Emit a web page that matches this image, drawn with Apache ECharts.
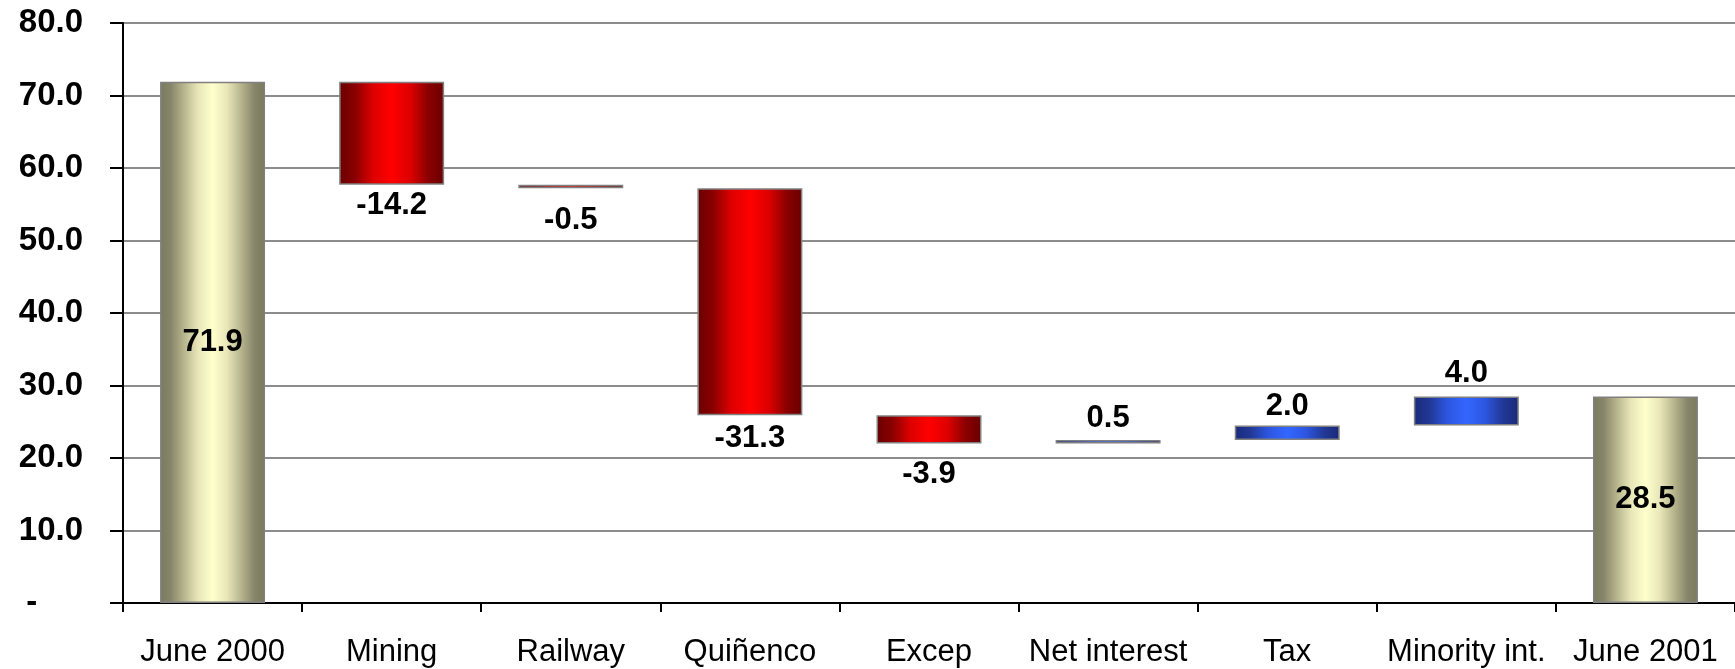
<!DOCTYPE html>
<html>
<head>
<meta charset="utf-8">
<script src="https://cdn.jsdelivr.net/npm/echarts@6/dist/echarts.min.js"></script>
<style>
html,body{margin:0;padding:0;background:#fff;}
#chart{width:1735px;height:669px;}
</style>
</head>
<body>
<div id="chart"></div>
<script>
// ---- data ----
var categories = ['June 2000', 'Mining', 'Railway', 'Quiñenco', 'Excep', 'Net interest', 'Tax', 'Minority int.', 'June 2001'];
var changes = [71.9, -14.2, -0.5, -31.3, -3.9, 0.5, 2.0, 4.0, 28.5];
var isTotal = [true, false, false, false, false, false, false, false, true];
var yTicks = [0, 10, 20, 30, 40, 50, 60, 70, 80];

// label gap (px) from bar edge, styling only
var labelGap = [0, 5, 17, 8, 15, 6, 3, 7, 0];

// ---- build waterfall (base + visible) ----
var base = [], visible = [];
var running = 0;
for (var i = 0; i < changes.length; i++) {
  var v = changes[i];
  if (isTotal[i]) {
    base.push(0);
    visible.push(v);
    running = v;
  } else if (v >= 0) {
    base.push(+running.toFixed(2));
    visible.push(v);
    running = running + v;
  } else {
    running = running + v;
    base.push(+running.toFixed(2));
    visible.push(-v);
  }
}

function grad(stops) {
  return new echarts.graphic.LinearGradient(0, 0, 1, 0, stops.map(function (s) { return { offset: s[0], color: s[1] }; }));
}
var goldGrad = grad([[0, '#7a7a5c'], [0.1, '#86856a'], [0.22, '#b4b28a'], [0.36, '#e8e6b8'], [0.5, '#ffffcc'], [0.64, '#e8e6b8'], [0.78, '#b4b28a'], [0.9, '#86856a'], [1, '#7a7a5c']]);
var redGrad = grad([[0, '#6a0000'], [0.15, '#8a0000'], [0.32, '#dd0000'], [0.5, '#ff0000'], [0.68, '#dd0000'], [0.85, '#8a0000'], [1, '#6a0000']]);
var blueGrad = grad([[0, '#1a2a78'], [0.15, '#213896'], [0.32, '#2d56e0'], [0.5, '#3366ff'], [0.68, '#2d56e0'], [0.85, '#213896'], [1, '#1a2a78']]);

var font = "'Liberation Sans', Arial, sans-serif";

var visData = visible.map(function (val, i) {
  var c = changes[i];
  var color = isTotal[i] ? goldGrad : (c < 0 ? redGrad : blueGrad);
  var pos = isTotal[i] ? 'inside' : (c < 0 ? 'bottom' : 'top');
  return {
    value: val,
    itemStyle: { color: color, borderColor: '#808080', borderWidth: 1.5 },
    label: { position: pos, distance: labelGap[i] }
  };
});

var chart = echarts.init(document.getElementById('chart'));
chart.setOption({
  animation: false,
  backgroundColor: '#ffffff',
  grid: { left: 123, right: 0, top: 23, bottom: 66 },
  xAxis: {
    type: 'category',
    data: categories,
    axisLine: { lineStyle: { color: '#000', width: 2 } },
    axisTick: { show: true, length: 9, interval: 0, lineStyle: { color: '#000', width: 2 } },
    axisLabel: { color: '#000', fontSize: 31, fontFamily: font, margin: 34, interval: 0 }
  },
  yAxis: {
    type: 'value',
    min: 0, max: 80, interval: 10,
    axisLine: { show: true, lineStyle: { color: '#000', width: 2 } },
    axisTick: { show: true, length: 13, lineStyle: { color: '#000', width: 2 } },
    splitLine: { show: true, lineStyle: { color: '#8c8c8c', width: 2 } },
    axisLabel: {
      color: '#000', fontSize: 33, fontWeight: 'bold', fontFamily: font, margin: 40,
      formatter: function (v) { return v === yTicks[0] ? '-     ' : v.toFixed(1); }
    }
  },
  series: [
    {
      type: 'bar', stack: 'w', data: base, barWidth: '58.6%',
      itemStyle: { color: 'transparent' }, silent: true
    },
    {
      type: 'bar', stack: 'w', data: visData, barWidth: '58.6%',
      label: {
        show: true, color: '#000', fontSize: 31, fontWeight: 'bold', fontFamily: font,
        formatter: function (p) { return changes[p.dataIndex].toFixed(1); }
      }
    }
  ]
});
</script>
</body>
</html>
